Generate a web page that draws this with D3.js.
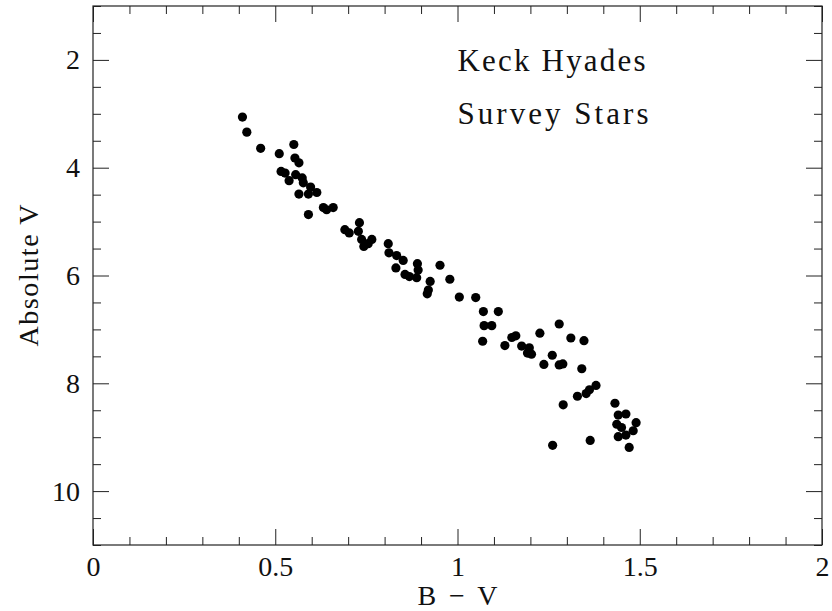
<!DOCTYPE html>
<html>
<head>
<meta charset="utf-8">
<script src="https://cdn.jsdelivr.net/npm/d3@7"></script>
<style>
  body { margin: 0; background: #fff; }
  text { font-family: "Liberation Serif", "DejaVu Serif", serif; fill: #111; }
</style>
</head>
<body>
<div id="img"></div>
<script>
// B-V colour of each survey star
const bv = [
  0.410, 0.422, 0.460, 0.511, 0.551, 0.554, 0.565, 0.516, 0.527, 0.538,
  0.556, 0.574, 0.577, 0.597, 0.565, 0.591, 0.614, 0.632, 0.641, 0.659,
  0.591, 0.691, 0.703, 0.731, 0.728, 0.737, 0.743, 0.765, 0.755, 0.810,
  0.812, 0.833, 0.851, 0.831, 0.890, 0.892, 0.856, 0.868, 0.888, 0.925,
  0.917, 0.920, 0.952, 0.979, 1.005, 1.050, 1.071, 1.112, 1.073, 1.094,
  1.069, 1.130, 1.149, 1.160, 1.176, 1.197, 1.192, 1.203, 1.226, 1.279,
  1.311, 1.347, 1.260, 1.237, 1.279, 1.289, 1.341, 1.380, 1.362, 1.353,
  1.329, 1.290, 1.432, 1.441, 1.462, 1.437, 1.450, 1.490, 1.482, 1.462,
  1.441, 1.471, 1.261, 1.364
];
// absolute V magnitude of each survey star
const absV = [
  3.06, 3.34, 3.64, 3.74, 3.57, 3.82, 3.91, 4.07, 4.10, 4.24,
  4.13, 4.19, 4.28, 4.36, 4.49, 4.49, 4.46, 4.74, 4.78, 4.74,
  4.87, 5.15, 5.21, 5.02, 5.18, 5.33, 5.46, 5.33, 5.41, 5.41,
  5.58, 5.63, 5.72, 5.86, 5.78, 5.90, 5.98, 6.02, 6.04, 6.11,
  6.34, 6.27, 5.81, 6.07, 6.40, 6.41, 6.67, 6.67, 6.93, 6.93,
  7.22, 7.30, 7.15, 7.12, 7.31, 7.34, 7.44, 7.46, 7.07, 6.90,
  7.16, 7.21, 7.48, 7.65, 7.66, 7.64, 7.73, 8.04, 8.12, 8.19,
  8.24, 8.40, 8.37, 8.59, 8.57, 8.76, 8.82, 8.73, 8.88, 8.96,
  8.99, 9.19, 9.15, 9.06
];
const xTicks = [0, 0.5, 1, 1.5, 2];
const yTicks = [2, 4, 6, 8, 10];
const titleLines = ["Keck Hyades", "Survey Stars"];

const mar = {top: 6, right: 10, bottom: 66, left: 93};
const W = 832, H = 611;
const wi = W - mar.left - mar.right;
const he = H - mar.top - mar.bottom;

const svg = d3.select("#img").append("svg")
  .attr("width", W)
  .attr("height", H);

const g = svg.append("g")
  .attr("transform", "translate(" + mar.left + "," + mar.top + ")");

const x = d3.scaleLinear().domain([0, 2]).range([0, wi]);
const y = d3.scaleLinear().domain([1, 11]).range([0, he]);

const fmt = d => d3.format("")(d);
const xMinor = d3.range(0, 2.0001, 0.1).filter(v => Math.abs(v * 2 - Math.round(v * 2)) > 1e-6);
const yMinor = d3.range(1, 11.0001, 0.5).filter(v => Math.abs(v % 2) > 1e-6);

function styleAxis(sel) {
  sel.select(".domain").remove();
  sel.selectAll("line").attr("stroke", "#222").attr("stroke-width", 1);
}

// bottom / top ticks (pointing inwards)
g.append("g").attr("transform", "translate(0," + he + ")")
  .call(d3.axisBottom(x).tickValues(xTicks).tickSize(-16).tickPadding(21).tickFormat(fmt))
  .call(styleAxis)
  .selectAll("text").style("font-size", "28px").attr("dy", "0.35em");
g.append("g").attr("transform", "translate(0," + he + ")")
  .call(d3.axisBottom(x).tickValues(xMinor).tickSize(-8).tickFormat(""))
  .call(styleAxis);
g.append("g")
  .call(d3.axisTop(x).tickValues(xTicks).tickSize(-16).tickFormat(""))
  .call(styleAxis);
g.append("g")
  .call(d3.axisTop(x).tickValues(xMinor).tickSize(-8).tickFormat(""))
  .call(styleAxis);

// left / right ticks
g.append("g")
  .call(d3.axisLeft(y).tickValues(yTicks).tickSize(-16).tickPadding(13).tickFormat(fmt))
  .call(styleAxis)
  .selectAll("text").style("font-size", "28px");
g.append("g")
  .call(d3.axisLeft(y).tickValues(yMinor).tickSize(-8).tickFormat(""))
  .call(styleAxis);
g.append("g").attr("transform", "translate(" + wi + ",0)")
  .call(d3.axisRight(y).tickValues(yTicks).tickSize(-16).tickFormat(""))
  .call(styleAxis);
g.append("g").attr("transform", "translate(" + wi + ",0)")
  .call(d3.axisRight(y).tickValues(yMinor).tickSize(-8).tickFormat(""))
  .call(styleAxis);

// frame
g.append("rect")
  .attr("width", wi).attr("height", he)
  .attr("fill", "none").attr("stroke", "#222").attr("stroke-width", 1.2);

// stars
g.selectAll("circle.star")
  .data(d3.zip(bv, absV))
  .enter().append("circle")
  .attr("class", "star")
  .attr("cx", d => x(d[0]))
  .attr("cy", d => y(d[1]))
  .attr("r", 4.6)
  .attr("fill", "#000");

// title lines
g.selectAll("text.title")
  .data(titleLines)
  .enter().append("text")
  .attr("class", "title")
  .attr("x", x(1.0))
  .attr("y", (d, i) => y(2.2) + i * 53)
  .attr("textLength", (d, i) => i === 0 ? 188 : 191)
  .attr("lengthAdjust", "spacing")
  .style("font-size", "31px")
  .text(d => d);

// axis titles
svg.append("text")
  .attr("x", mar.left + x(1) - 40)
  .attr("y", 605)
  .attr("textLength", 80)
  .attr("lengthAdjust", "spacing")
  .style("font-size", "28px")
  .text("B \u2212 V");

svg.append("text")
  .attr("transform", "translate(38," + (mar.top + y(6) + 71) + ") rotate(-90)")
  .attr("textLength", 142)
  .attr("lengthAdjust", "spacing")
  .style("font-size", "28px")
  .text("Absolute V");
</script>
</body>
</html>
